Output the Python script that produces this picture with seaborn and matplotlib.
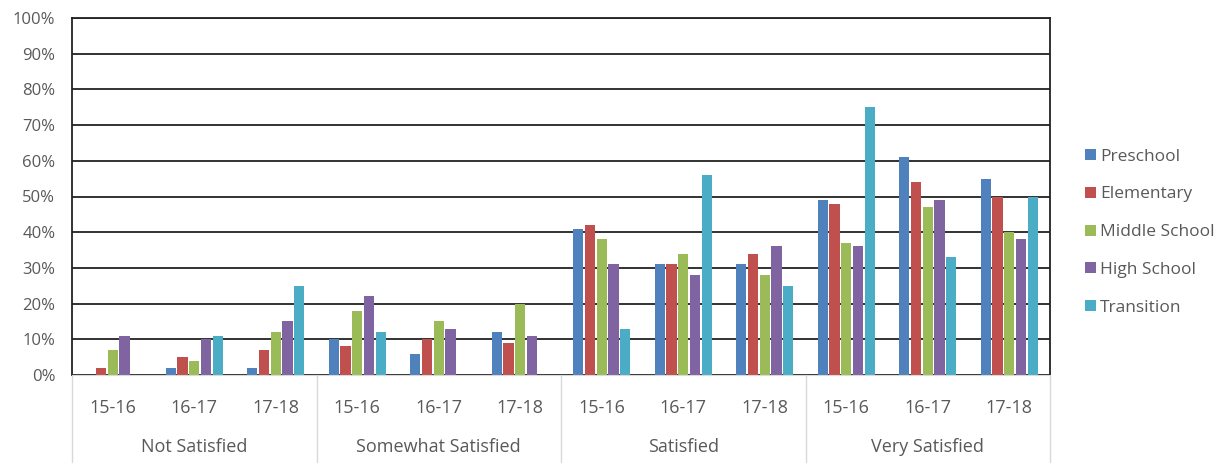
import matplotlib
matplotlib.use("Agg")
import matplotlib.pyplot as plt
import seaborn as sns
import pandas as pd

groups = ["Not Satisfied", "Somewhat Satisfied", "Satisfied", "Very Satisfied"]
years = ["15-16", "16-17", "17-18"]
levels = ["Preschool", "Elementary", "Middle School", "High School", "Transition"]

# percent values, one list per school level, ordered group by group, year by year
preschool = [0, 2, 2, 10, 6, 12, 41, 31, 31, 49, 61, 55]
elementary = [2, 5, 7, 8, 10, 9, 42, 31, 34, 48, 54, 50]
middle = [7, 4, 12, 18, 15, 20, 38, 34, 28, 37, 47, 40]
high = [11, 10, 15, 22, 13, 11, 31, 28, 36, 36, 49, 38]
transition = [0, 11, 25, 12, 0, 0, 13, 56, 25, 75, 33, 50]

colors = ["#4F81BD", "#C0504D", "#9BBB59", "#8064A2", "#4BACC6"]

slots = [g + "|" + y for g in groups for y in years]
rows = []
for lvl, vals in zip(levels, [preschool, elementary, middle, high, transition]):
    for s, v in zip(slots, vals):
        rows.append({"slot": s, "level": lvl, "value": v / 100})
df = pd.DataFrame(rows)

sns.set_style("white")
plt.rcParams["font.family"] = ["Open Sans", "DejaVu Sans"]

fig = plt.figure(figsize=(12.31, 4.72), dpi=100)
ax = fig.add_axes([72 / 1231, 1 - 375 / 472, (1050 - 72) / 1231, (375 - 18) / 472])

sns.barplot(data=df, x="slot", y="value", hue="level", order=slots,
            hue_order=levels, palette=colors, width=0.72, gap=0.12,
            saturation=1, linewidth=0, ax=ax)

ax.set_ylim(0, 1)
ax.set_xlim(-0.5, len(slots) - 0.5)
ax.set_yticks([i / 10 for i in range(11)])
ax.set_yticklabels([f"{i * 10}%" for i in range(11)], color="#595959", fontsize=12)
ax.yaxis.grid(True, color="#222222", linewidth=1.3)
ax.set_axisbelow(True)
ax.tick_params(axis="y", length=0, pad=12)
ax.set_xticks(range(len(slots)))
ax.set_xticklabels(years * len(groups), color="#595959", fontsize=13)
ax.tick_params(axis="x", length=0, pad=17)
ax.set_xlabel("")
ax.set_ylabel("")

for side in ["left", "right", "top"]:
    ax.spines[side].set_color("#222222")
    ax.spines[side].set_linewidth(1.3)
ax.spines["bottom"].set_color("#d9d9d9")

# group separators and group labels below the axis
for i in range(len(groups) + 1):
    x = i * 3 - 0.5
    ax.plot([x, x], [0, -0.245], color="#d9d9d9", linewidth=1,
            clip_on=False, transform=ax.transData)
for i, g in enumerate(groups):
    ax.text(i * 3 + 1, -0.203, g, ha="center", va="center", color="#595959",
            fontsize=13, clip_on=False)

handles, labels = ax.get_legend_handles_labels()
ax.legend(handles, labels, loc="center left", bbox_to_anchor=(1.02, 0.4),
          frameon=False, fontsize=12.5, handlelength=0.6, handleheight=0.6,
          handletextpad=0.25, labelspacing=1.25, labelcolor="#595959")

fig.savefig("out.png", dpi=100)
